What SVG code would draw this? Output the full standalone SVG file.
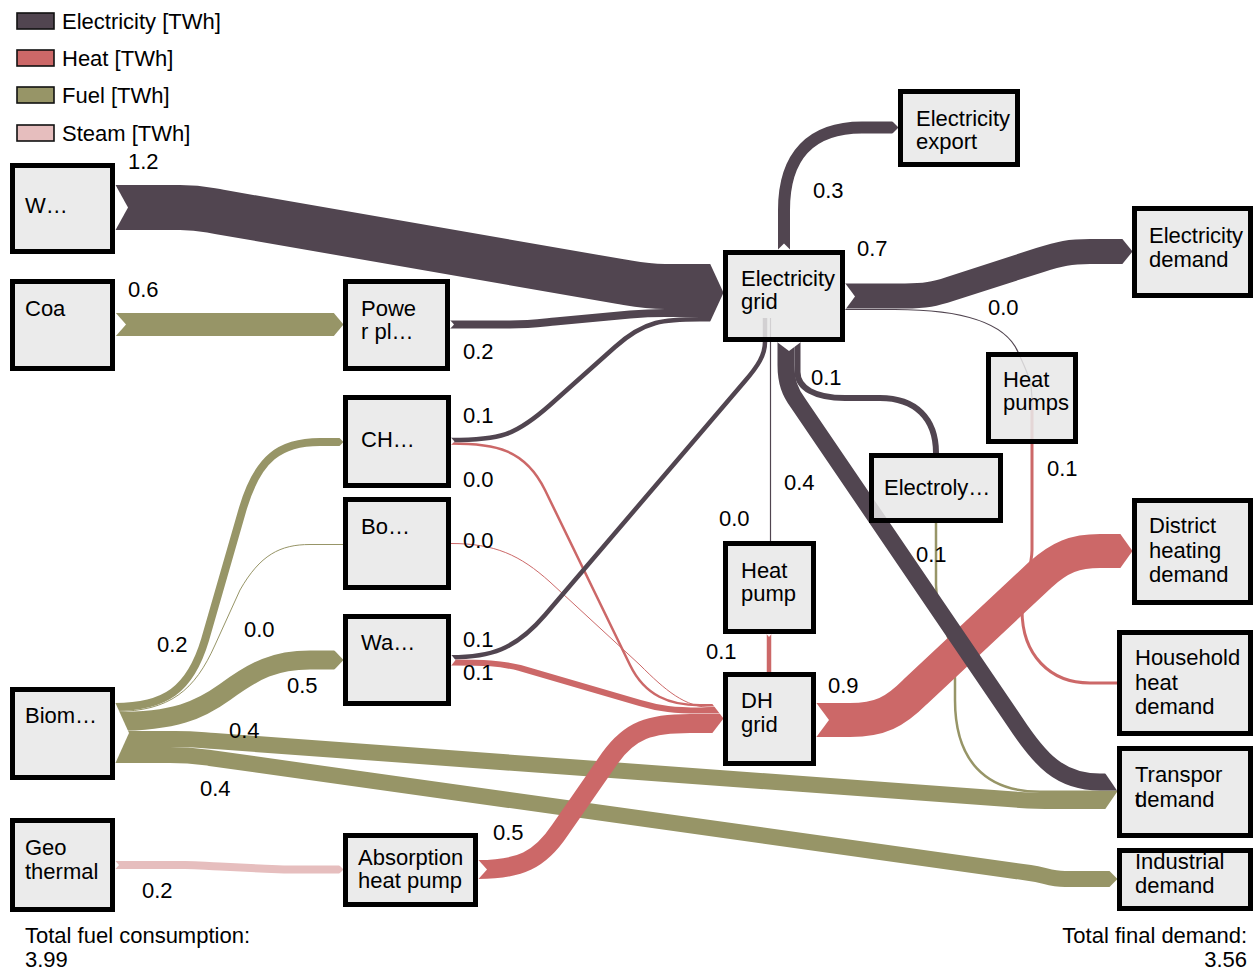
<svg xmlns="http://www.w3.org/2000/svg" width="1255" height="970" viewBox="0 0 1255 970">
  <style>
    text { font-family: "Liberation Sans", Arial, sans-serif; font-size: 22px; fill: #000; }
    .node rect { fill: #e8e8e8; fill-opacity: 0.86; stroke: #000; stroke-width: 5; }
    .lg { stroke: #111; stroke-width: 1.6; }
    .lnk { fill: none; stroke-linecap: butt; stroke-linejoin: round; }
    .e { stroke: #514550; }
    .h { stroke: #cc6868; }
    .f { stroke: #979567; }
    .s { stroke: #e6bebe; }
    .cut { fill: #fff; }
  </style>

  <!-- legend -->
  <g id="legend">
    <rect class="lg" x="17" y="13" width="37" height="16" fill="#514550"/>
    <text x="62" y="29">Electricity [TWh]</text>
    <rect class="lg" x="17" y="50" width="37" height="16" fill="#cc6868"/>
    <text x="62" y="66">Heat [TWh]</text>
    <rect class="lg" x="17" y="87" width="37" height="16" fill="#979567"/>
    <text x="62" y="103">Fuel [TWh]</text>
    <rect class="lg" x="17" y="125" width="37" height="16" fill="#e6bebe"/>
    <text x="62" y="141">Steam [TWh]</text>
  </g>

  <!-- connectors -->
  <g id="connectors">
    <!-- fuel -->
    <path class="lnk f" stroke-width="23" d="M115,324.5 H343"/>
    <path class="lnk f" stroke-width="8" d="M115,707 C165,707 190,690 205,640 L243,508 C258,458 280,442 320,442 H343"/>
    <path class="lnk f" stroke-width="1" d="M115,711.5 C170,711.5 195,690 215,645 L240,590 C260,555 280,544.5 310,544.5 H343"/>
    <path class="lnk f" stroke-width="19" d="M115,721.5 C175,721.5 200,710 225,692 C255,670 275,660 310,660 H343"/>
    <path class="lnk f" stroke-width="16" d="M115,739 H175 C195,739 200,740 215,741 L1020,800 C1035,801 1040,801 1055,801 H1117"/>
    <path class="lnk f" stroke-width="16" d="M115,755 H170 C190,755 195,756 210,758 L1030,873 C1045,875 1050,879 1065,879 H1117"/>
    <path class="lnk f" stroke-width="2.5" d="M936,523 V585 C936,615 955,640 955,680 V700 C955,760 985,791.75 1040,791.75 H1117"/>
    <!-- steam -->
    <path class="lnk s" stroke-width="8" d="M115,865 H185 C200,865 205,866 220,866.5 L260,868.5 C275,869 280,869.5 295,869.5 H343"/>
    <!-- heat -->
    <path class="lnk h" stroke-width="2.5" d="M451,443.5 C495,443.5 525,449 545,490 L630,665 C645,696 670,705.25 700,705.25 H723"/>
    <path class="lnk h" stroke-width="1" d="M451,543.5 C495,543.5 520,555 550,582 L640,665 C665,690 685,707.5 712,707.5 H723"/>
    <path class="lnk h" stroke-width="6" d="M451,662.5 C485,662.5 500,663 520,668 L640,703 C660,709 675,710.5 700,710.5 H723"/>
    <path class="lnk h" stroke-width="19" d="M478,869.5 C520,869.5 540,860 560,830 L610,758 C630,730 650,723.5 690,723.5 H723"/>
    <path class="lnk h" stroke-width="4.5" d="M769,634 V672"/>
    <path class="lnk h" stroke-width="3" d="M1032,398 V550 C1032,570 1022,585 1022,610 C1022,655 1050,683 1090,683 H1117"/>
    <path class="lnk h" stroke-width="34" d="M816,720 H850 C880,720 895,712 915,692 L1040,575 C1060,557 1075,551 1100,551 H1132"/>
    <!-- electricity -->
    <path class="lnk e" stroke-width="45" d="M115,207.5 H180 C200,207.5 205,209.5 220,212 L620,281.5 C635,284 645,286.5 665,286.5 H723"/>
    <path class="lnk e" stroke-width="8" d="M450,324.5 H510 C530,324.5 540,323 555,321.5 L630,314.5 C642,313.5 650,313 665,313 H723"/>
    <path class="lnk e" stroke-width="4.5" d="M451,440 C500,440 515,436 550,405 L615,347 C645,320 665,319.25 700,319.25 H723"/>
    <path class="lnk e" stroke-width="4.5" d="M451,657.25 C490,657.25 515,650 545,615 L745,381 C758,366 765,355 765,342 V318"/>
    <path class="lnk e" stroke-width="1.2" d="M770.5,318 V541"/>
    <path class="lnk e" stroke-width="12" d="M784,250 V210 C784,155 812,127.5 862,127.5 H898"/>
    <path class="lnk e" stroke-width="25" d="M845,296 H905 C925,296 935,294 950,289 L1040,260 C1060,253.5 1070,251.5 1090,251.5 H1132"/>
    <path class="lnk e" stroke-width="1.2" d="M845,309.5 H895 C960,309.5 1005,322 1018,352 C1025,368 1032,380 1032,398"/>
    <path class="lnk e" stroke-width="17" d="M786,342 V365 C786,382 790,392 798,403 L1015,722 C1040,760 1060,782 1100,782 H1117"/>
    <path class="lnk e" stroke-width="6" d="M797.5,342 V372 C797.5,388 815,398 845,398 H880 C915,398 936,418 936,453"/>

    <!-- notched link starts -->
    <polygon class="cut" points="115,184 128,207.5 115,231"/>
    <polygon class="cut" points="115,312 126,324.5 115,337"/>
    <polygon class="cut" points="450,320 454,324.5 450,329"/>
    <polygon class="cut" points="451,437.5 454.5,441.5 451,445"/>
    <polygon class="cut" points="451,654.5 455.5,660 451,666"/>
    <polygon class="cut" points="115,702 129,733 115,764"/>
    <polygon class="cut" points="115,860.5 119,865 115,869.5"/>
    <polygon class="cut" points="478,859.5 487,869.5 478,879.5"/>
    <polygon class="cut" points="845,283 855,296.5 845,310"/>
    <polygon class="cut" points="777.5,250 784,243.5 790.5,250"/>
    <polygon class="cut" points="777,342 789,351 801,342"/>
    <polygon class="cut" points="816,702.5 829,720 816,737.5"/>
    <polygon class="cut" points="766.5,634 769,637 771.5,634"/>

    <!-- pointed link ends -->
    <polygon class="cut" points="333,312 343.5,312 343.5,324.5"/>
    <polygon class="cut" points="333,337 343.5,337 343.5,324.5"/>
    <polygon class="cut" points="339,437.5 343.5,437.5 343.5,442"/>
    <polygon class="cut" points="339,446.5 343.5,446.5 343.5,442"/>
    <polygon class="cut" points="334,650 343.5,650 343.5,660"/>
    <polygon class="cut" points="334,670 343.5,670 343.5,660"/>
    <polygon class="cut" points="710,263.5 723.5,263.5 723.5,292.75"/>
    <polygon class="cut" points="710,322 723.5,322 723.5,292.75"/>
    <polygon class="cut" points="892,121 898.5,121 898.5,127.5"/>
    <polygon class="cut" points="892,134 898.5,134 898.5,127.5"/>
    <polygon class="cut" points="1122,238.5 1132.5,238.5 1132.5,251.5"/>
    <polygon class="cut" points="1122,264.5 1132.5,264.5 1132.5,251.5"/>
    <polygon class="cut" points="712,703.5 723.5,703.5 723.5,718.5"/>
    <polygon class="cut" points="712,733.5 723.5,733.5 723.5,718.5"/>
    <polygon class="cut" points="1120,533.5 1132.5,533.5 1132.5,551"/>
    <polygon class="cut" points="1120,568.5 1132.5,568.5 1132.5,551"/>
    <polygon class="cut" points="1105,773 1117.5,773 1117.5,791.25"/>
    <polygon class="cut" points="1105,809.5 1117.5,809.5 1117.5,791.25"/>
    <polygon class="cut" points="1109,870.5 1117.5,870.5 1117.5,879"/>
    <polygon class="cut" points="1109,887.5 1117.5,887.5 1117.5,879"/>
    <polygon class="cut" points="339,865 343.5,865 343.5,869.5"/>
    <polygon class="cut" points="339,874 343.5,874 343.5,869.5"/>
  </g>

  <!-- nodes -->
  <g id="node-wind" class="node">
    <rect x="12.5" y="165.5" width="100" height="86"/>
    <text x="25" y="213">W…</text>
  </g>
  <g id="node-coal" class="node">
    <rect x="12.5" y="281.5" width="100" height="87"/>
    <text x="25" y="316">Coa</text>
  </g>
  <g id="node-power-plant" class="node">
    <rect x="345.5" y="281.5" width="102" height="87"/>
    <text x="361" y="316">Powe</text>
    <text x="361" y="339">r pl…</text>
  </g>
  <g id="node-chp" class="node">
    <rect x="345.5" y="397.5" width="103" height="88"/>
    <text x="361" y="447">CH…</text>
  </g>
  <g id="node-boiler" class="node">
    <rect x="345.5" y="499.5" width="103" height="88"/>
    <text x="361" y="534">Bo…</text>
  </g>
  <g id="node-waste" class="node">
    <rect x="345.5" y="616.5" width="103" height="87"/>
    <text x="361" y="650">Wa…</text>
  </g>
  <g id="node-biomass" class="node">
    <rect x="12.5" y="689.5" width="100" height="88"/>
    <text x="25" y="723">Biom…</text>
  </g>
  <g id="node-geothermal" class="node">
    <rect x="12.5" y="820.5" width="100" height="89"/>
    <text x="25" y="855">Geo</text>
    <text x="25" y="879">thermal</text>
  </g>
  <g id="node-absorption-heat-pump" class="node">
    <rect x="345.5" y="835.5" width="130" height="69"/>
    <text x="358" y="865">Absorption</text>
    <text x="358" y="888">heat pump</text>
  </g>
  <g id="node-electricity-grid" class="node">
    <rect x="725.5" y="252.5" width="117" height="87"/>
    <text x="741" y="286">Electricity</text>
    <text x="741" y="309">grid</text>
  </g>
  <g id="node-electricity-export" class="node">
    <rect x="900.5" y="91.5" width="117" height="73"/>
    <text x="916" y="126">Electricity</text>
    <text x="916" y="149">export</text>
  </g>
  <g id="node-electricity-demand" class="node">
    <rect x="1134.5" y="208.5" width="116" height="87"/>
    <text x="1149" y="243">Electricity</text>
    <text x="1149" y="267">demand</text>
  </g>
  <g id="node-heat-pumps" class="node">
    <rect x="988.5" y="354.5" width="87" height="87"/>
    <text x="1003" y="387">Heat</text>
    <text x="1003" y="410">pumps</text>
  </g>
  <g id="node-electrolysis" class="node">
    <rect x="871.5" y="455.5" width="129" height="65"/>
    <text x="884" y="495">Electroly…</text>
  </g>
  <g id="node-heat-pump" class="node">
    <rect x="725.5" y="543.5" width="88" height="88"/>
    <text x="741" y="578">Heat</text>
    <text x="741" y="601">pump</text>
  </g>
  <g id="node-dh-grid" class="node">
    <rect x="725.5" y="674.5" width="88" height="89"/>
    <text x="741" y="708">DH</text>
    <text x="741" y="732">grid</text>
  </g>
  <g id="node-district-heating-demand" class="node">
    <rect x="1134.5" y="500.5" width="116" height="102"/>
    <text x="1149" y="533">District</text>
    <text x="1149" y="558">heating</text>
    <text x="1149" y="582">demand</text>
  </g>
  <g id="node-household-heat-demand" class="node">
    <rect x="1119.5" y="632.5" width="131" height="101"/>
    <text x="1135" y="665">Household</text>
    <text x="1135" y="690">heat</text>
    <text x="1135" y="714">demand</text>
  </g>
  <g id="node-transport-demand" class="node">
    <rect x="1119.5" y="748.5" width="131" height="87"/>
    <text x="1135" y="782">Transpor</text>
    <text x="1135" y="807">t</text>
    <text x="1135" y="807">demand</text>
  </g>
  <g id="node-industrial-demand" class="node">
    <rect x="1119.5" y="850.5" width="131" height="58"/>
    <text x="1135" y="869">Industrial</text>
    <text x="1135" y="893">demand</text>
  </g>

  <!-- link values -->
  <g id="values">
    <text x="128" y="169">1.2</text>
    <text x="128" y="297">0.6</text>
    <text x="463" y="359">0.2</text>
    <text x="463" y="423">0.1</text>
    <text x="463" y="487">0.0</text>
    <text x="463" y="548">0.0</text>
    <text x="463" y="647">0.1</text>
    <text x="463" y="680">0.1</text>
    <text x="157" y="652">0.2</text>
    <text x="244" y="637">0.0</text>
    <text x="287" y="693">0.5</text>
    <text x="229" y="738">0.4</text>
    <text x="200" y="796">0.4</text>
    <text x="142" y="898">0.2</text>
    <text x="493" y="840">0.5</text>
    <text x="813" y="198">0.3</text>
    <text x="857" y="256">0.7</text>
    <text x="988" y="315">0.0</text>
    <text x="811" y="385">0.1</text>
    <text x="784" y="490">0.4</text>
    <text x="719" y="526">0.0</text>
    <text x="1047" y="476">0.1</text>
    <text x="916" y="562">0.1</text>
    <text x="706" y="659">0.1</text>
    <text x="828" y="693">0.9</text>
  </g>

  <!-- totals -->
  <g id="totals">
    <text x="25" y="943">Total fuel consumption:</text>
    <text x="25" y="967">3.99</text>
    <text x="1247" y="943" text-anchor="end">Total final demand:</text>
    <text x="1247" y="967" text-anchor="end">3.56</text>
  </g>
</svg>
